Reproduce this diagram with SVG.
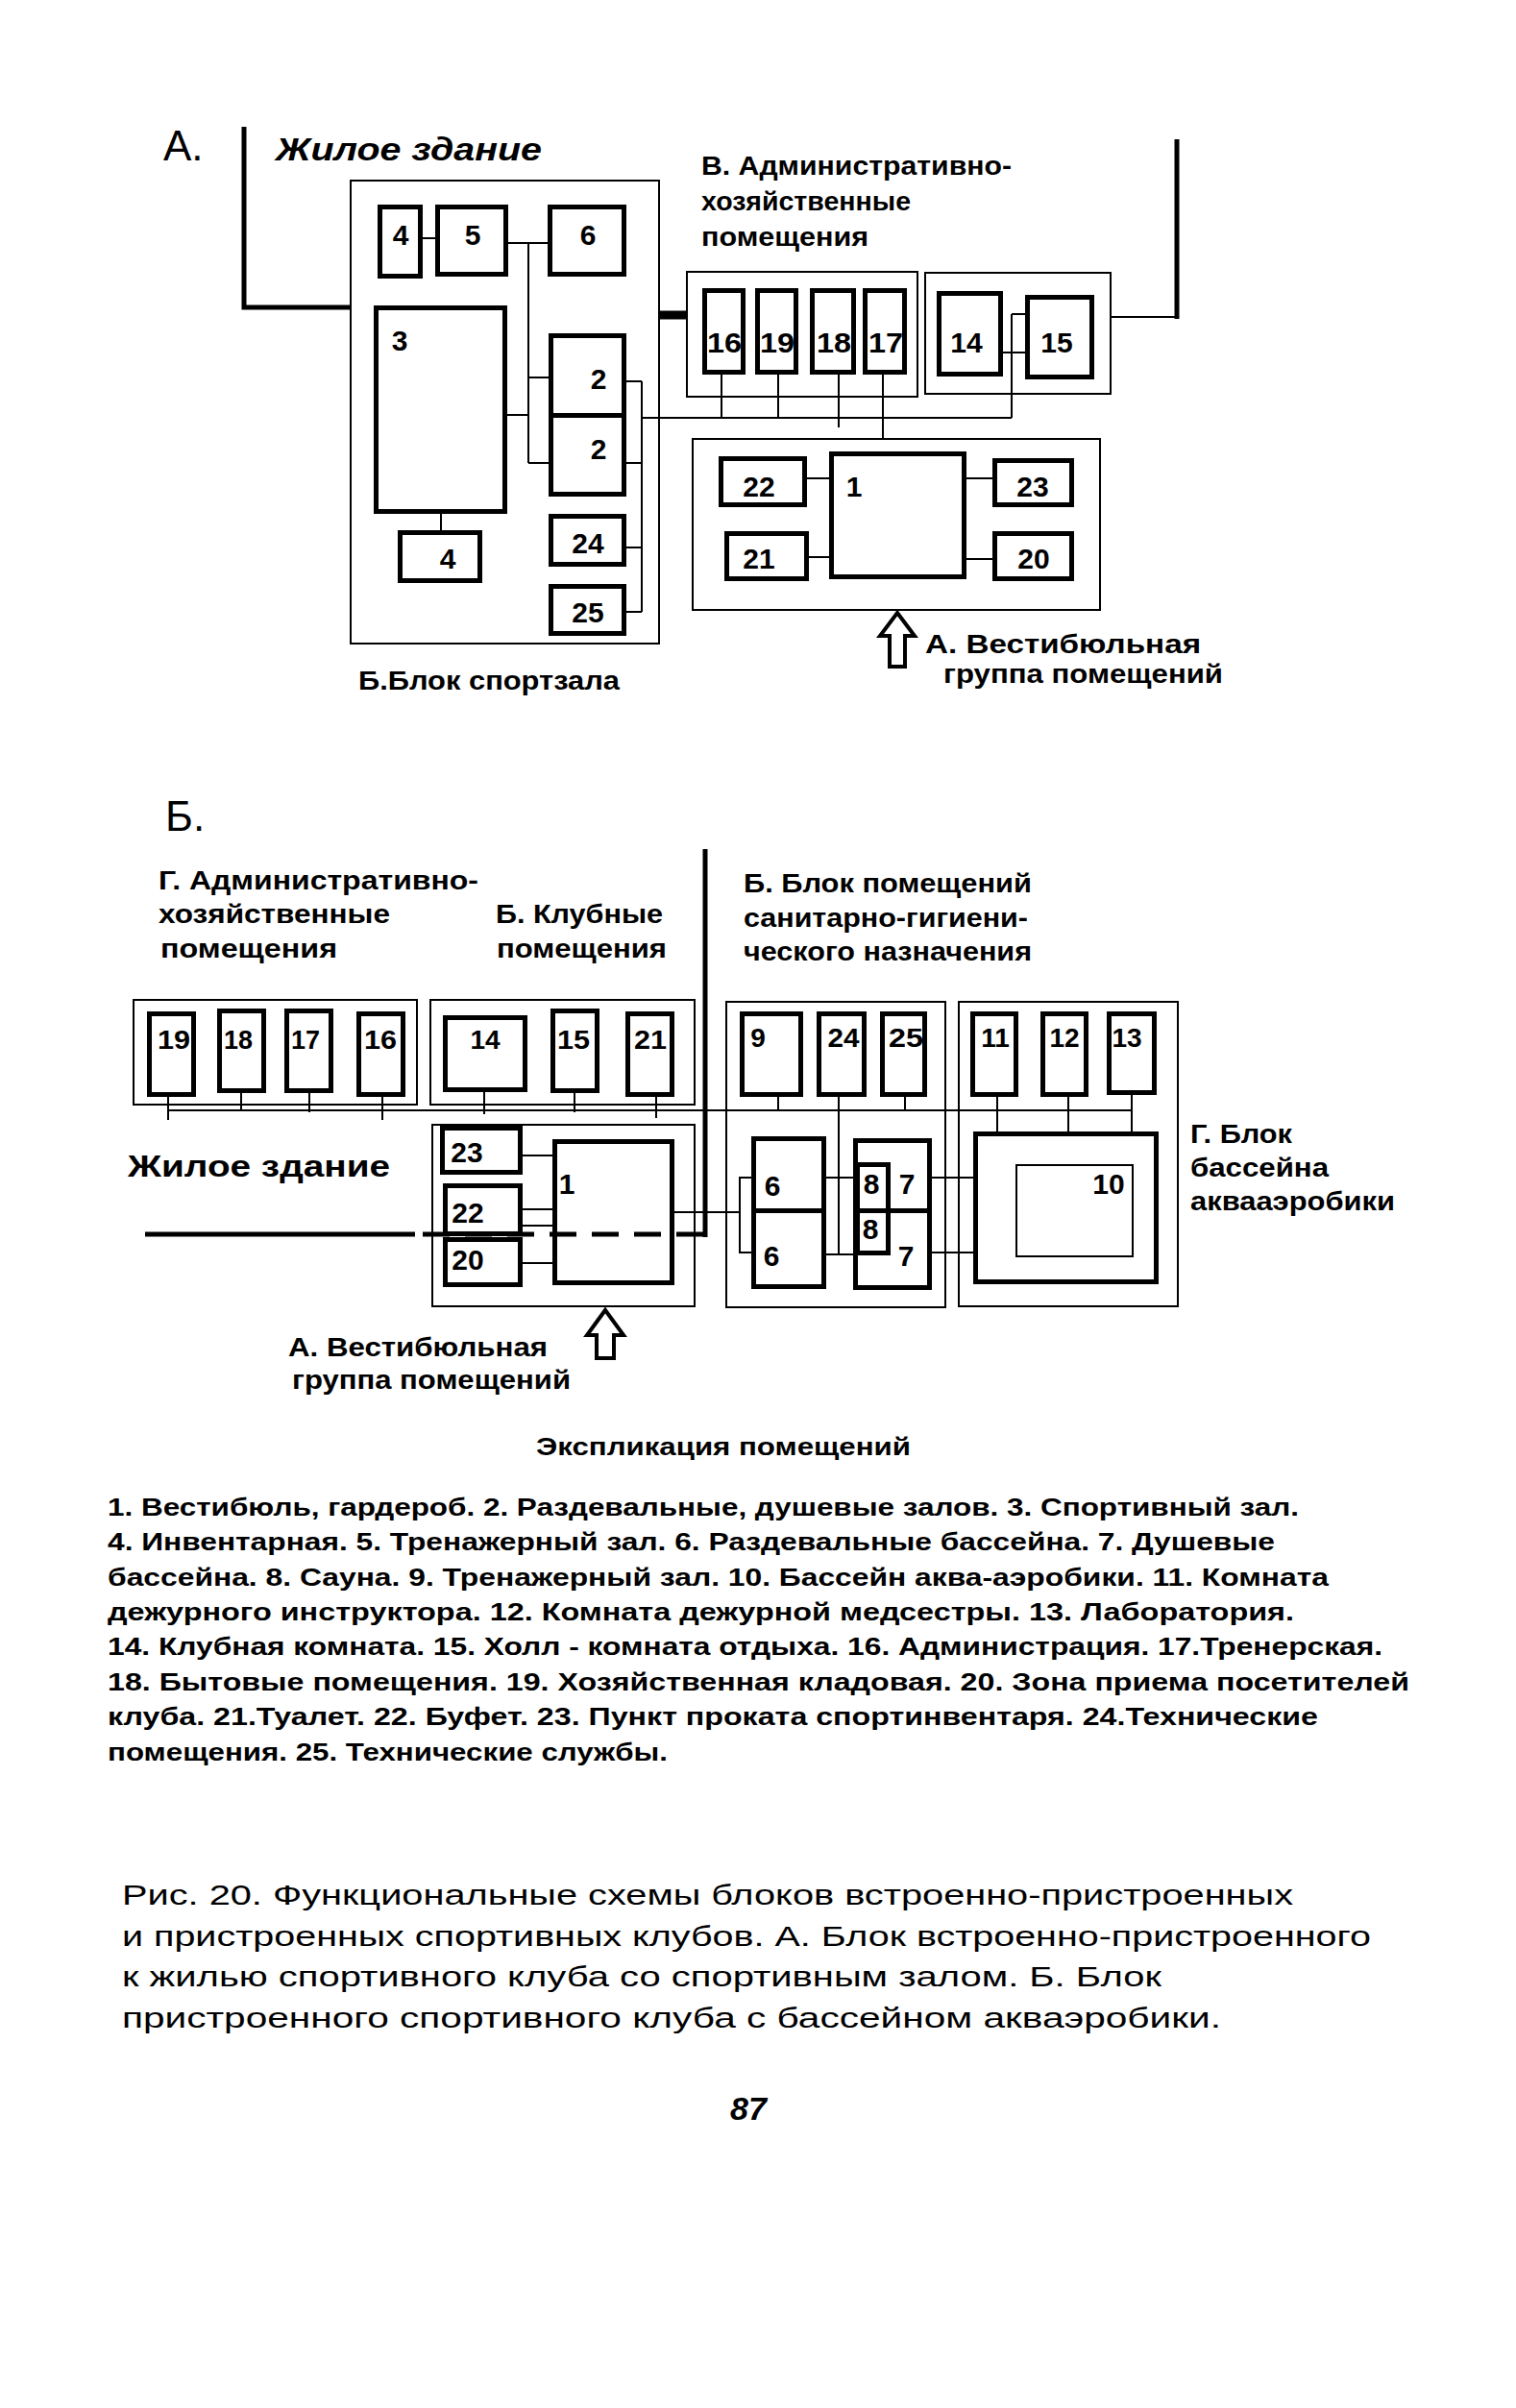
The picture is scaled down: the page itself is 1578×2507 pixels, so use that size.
<svg xmlns="http://www.w3.org/2000/svg" width="1578" height="2507" viewBox="0 0 1578 2507">
<style>
.bg{fill:#fff}
.thin{fill:none;stroke:#000;stroke-width:2}
.thick{fill:#fff;stroke:#000;stroke-width:5}
.inner{fill:none;stroke:#000;stroke-width:2}
.w{fill:none;stroke:#000;stroke-width:2}
.h{fill:none;stroke:#000;stroke-width:5}
.arrow{fill:#fff;stroke:#000;stroke-width:4;stroke-linejoin:miter}
text{font-family:"Liberation Sans",Arial,sans-serif;fill:#000}
.num{font-weight:bold;font-size:30px;text-anchor:middle}
.num2{font-weight:bold;font-size:28px;text-anchor:middle}
.hd{font-weight:bold;font-size:27px}
.big{font-size:44px}
.ex{font-weight:bold;font-size:25px}
.cap{font-size:30px}
</style>
<rect class="bg" x="0" y="0" width="1578" height="2507"/>

<!-- ===== Part A ===== -->
<text class="big" x="170" y="167">А.</text>
<text x="287" y="167" font-weight="bold" font-style="italic" font-size="33" textLength="277" lengthAdjust="spacingAndGlyphs">Жилое здание</text>
<text class="hd" x="730" y="182" textLength="323" lengthAdjust="spacingAndGlyphs">В. Административно-</text>
<text class="hd" x="730" y="219" textLength="218" lengthAdjust="spacingAndGlyphs">хозяйственные</text>
<text class="hd" x="730" y="256" textLength="174" lengthAdjust="spacingAndGlyphs">помещения</text>
<text class="hd" x="373" y="718" textLength="272" lengthAdjust="spacingAndGlyphs">Б.Блок спортзала</text>
<text class="hd" x="963" y="680" textLength="287" lengthAdjust="spacingAndGlyphs">А. Вестибюльная</text>
<text class="hd" x="982" y="711" textLength="291" lengthAdjust="spacingAndGlyphs">группа помещений</text>

<g id="connectors-A">
  <polyline class="h" points="254,132 254,320 366,320"/>
  <line x1="686" y1="328" x2="714" y2="328" stroke="#000" stroke-width="9"/>
  <line class="w" x1="437" y1="248" x2="456" y2="248"/>
  <line class="w" x1="527" y1="253" x2="573" y2="253"/>
  <line class="w" x1="550" y1="253" x2="550" y2="482"/>
  <line class="w" x1="526" y1="432" x2="550" y2="432"/>
  <line class="w" x1="550" y1="393" x2="573" y2="393"/>
  <line class="w" x1="550" y1="482" x2="573" y2="482"/>
  <line class="w" x1="650" y1="397" x2="668" y2="397"/>
  <line class="w" x1="650" y1="482" x2="668" y2="482"/>
  <line class="w" x1="668" y1="397" x2="668" y2="637"/>
  <line class="w" x1="650" y1="570" x2="668" y2="570"/>
  <line class="w" x1="650" y1="637" x2="668" y2="637"/>
  <line class="w" x1="459" y1="533" x2="459" y2="555"/>
  <line class="w" x1="668" y1="435" x2="1053" y2="435"/>
  <line class="w" x1="751" y1="388" x2="751" y2="435"/>
  <line class="w" x1="810" y1="388" x2="810" y2="435"/>
  <line class="w" x1="873" y1="388" x2="873" y2="445"/>
  <line class="w" x1="919" y1="388" x2="919" y2="458"/>
  <line class="w" x1="1053" y1="327" x2="1053" y2="435"/>
  <line class="w" x1="1053" y1="327" x2="1068" y2="327"/>
  <line class="w" x1="1042" y1="367" x2="1068" y2="367"/>
  <line class="w" x1="1156" y1="330" x2="1227" y2="330"/>
  <line class="h" x1="1225" y1="145" x2="1225" y2="332"/>
  <line class="w" x1="838" y1="498" x2="866" y2="498"/>
  <line class="w" x1="840" y1="580" x2="866" y2="580"/>
  <line class="w" x1="1004" y1="498" x2="1036" y2="498"/>
  <line class="w" x1="1004" y1="582" x2="1036" y2="582"/>
</g>

<g id="A-block-B">
  <rect class="thin" x="365" y="188" width="321" height="482"/>
</g>
<g id="A-room-4a"><rect class="thick" x="395.5" y="215.5" width="42" height="72"/><text class="num" x="417" y="255">4</text></g>
<g id="A-room-5"><rect class="thick" x="455.5" y="215.5" width="71" height="70"/><text class="num" x="492" y="255">5</text></g>
<g id="A-room-6"><rect class="thick" x="572.5" y="215.5" width="77" height="70"/><text class="num" x="612" y="255">6</text></g>
<g id="A-room-3"><rect class="thick" x="391.5" y="320.5" width="134" height="212"/><text class="num" x="416" y="365">3</text></g>
<g id="A-room-2a"><rect class="thick" x="573.5" y="349.5" width="76" height="83"/><text class="num" x="623" y="405">2</text></g>
<g id="A-room-2b"><rect class="thick" x="573.5" y="432.5" width="76" height="82"/><text class="num" x="623" y="478">2</text></g>
<g id="A-room-4b"><rect class="thick" x="416.5" y="554.5" width="83" height="50"/><text class="num" x="466" y="592">4</text></g>
<g id="A-room-24"><rect class="thick" x="573.5" y="537.5" width="76" height="50"/><text class="num" x="612" y="576">24</text></g>
<g id="A-room-25"><rect class="thick" x="573.5" y="610.5" width="76" height="49"/><text class="num" x="612" y="648">25</text></g>

<g id="A-block-V">
  <rect class="thin" x="715" y="283" width="240" height="130"/>
</g>
<g id="A-room-16"><rect class="thick" x="733.5" y="302.5" width="40" height="85"/><text class="num" x="754" y="367" font-size="32" textLength="36" lengthAdjust="spacingAndGlyphs">16</text></g>
<g id="A-room-19"><rect class="thick" x="788.5" y="302.5" width="40" height="85"/><text class="num" x="809" y="367" font-size="32" textLength="36" lengthAdjust="spacingAndGlyphs">19</text></g>
<g id="A-room-18"><rect class="thick" x="845.5" y="302.5" width="43" height="85"/><text class="num" x="868" y="367" font-size="32" textLength="36" lengthAdjust="spacingAndGlyphs">18</text></g>
<g id="A-room-17"><rect class="thick" x="900.5" y="302.5" width="41" height="85"/><text class="num" x="922" y="367" font-size="32" textLength="36" lengthAdjust="spacingAndGlyphs">17</text></g>

<g id="A-block-club">
  <rect class="thin" x="963" y="284" width="193" height="126"/>
</g>
<g id="A-room-14"><rect class="thick" x="977.5" y="305.5" width="64" height="84"/><text class="num" x="1006" y="367">14</text></g>
<g id="A-room-15"><rect class="thick" x="1069.5" y="309.5" width="67" height="83"/><text class="num" x="1100" y="367">15</text></g>

<g id="A-block-vestibule">
  <rect class="thin" x="721" y="457" width="424" height="178"/>
</g>
<g id="A-room-22"><rect class="thick" x="750.5" y="477.5" width="87" height="48"/><text class="num" x="790" y="517">22</text></g>
<g id="A-room-21"><rect class="thick" x="756.5" y="555.5" width="83" height="47"/><text class="num" x="790" y="592">21</text></g>
<g id="A-room-1"><rect class="thick" x="865.5" y="472.5" width="138" height="128"/><text class="num" x="889" y="517">1</text></g>
<g id="A-room-23"><rect class="thick" x="1035.5" y="479.5" width="80" height="46"/><text class="num" x="1075" y="517">23</text></g>
<g id="A-room-20"><rect class="thick" x="1035.5" y="555.5" width="80" height="47"/><text class="num" x="1076" y="592">20</text></g>
<g id="A-entry-arrow"><path class="arrow" d="M934,638 L952,662 L942,662 L942,694 L926,694 L926,662 L916,662 Z"/></g>

<!-- ===== Part B ===== -->
<text class="big" x="172" y="865">Б.</text>
<text class="hd" x="165" y="926" textLength="333" lengthAdjust="spacingAndGlyphs">Г. Административно-</text>
<text class="hd" x="165" y="961" textLength="241" lengthAdjust="spacingAndGlyphs">хозяйственные</text>
<text class="hd" x="167" y="997" textLength="184" lengthAdjust="spacingAndGlyphs">помещения</text>
<text class="hd" x="516" y="961" textLength="174" lengthAdjust="spacingAndGlyphs">Б. Клубные</text>
<text class="hd" x="517" y="997" textLength="177" lengthAdjust="spacingAndGlyphs">помещения</text>
<text class="hd" x="774" y="929" textLength="300" lengthAdjust="spacingAndGlyphs">Б. Блок помещений</text>
<text class="hd" x="774" y="965" textLength="296" lengthAdjust="spacingAndGlyphs">санитарно-гигиени-</text>
<text class="hd" x="774" y="1000" textLength="300" lengthAdjust="spacingAndGlyphs">ческого назначения</text>
<text x="133" y="1225" font-weight="bold" font-size="32" textLength="273" lengthAdjust="spacingAndGlyphs">Жилое здание</text>
<text class="hd" x="300" y="1412" textLength="270" lengthAdjust="spacingAndGlyphs">А. Вестибюльная</text>
<text class="hd" x="304" y="1446" textLength="290" lengthAdjust="spacingAndGlyphs">группа помещений</text>
<text class="hd" x="1239" y="1190" textLength="106" lengthAdjust="spacingAndGlyphs">Г. Блок</text>
<text class="hd" x="1239" y="1225" textLength="144" lengthAdjust="spacingAndGlyphs">бассейна</text>
<text class="hd" x="1239" y="1260" textLength="213" lengthAdjust="spacingAndGlyphs">аквааэробики</text>

<g id="connectors-B">
  <line class="h" x1="734" y1="884" x2="734" y2="1288"/>
  <line class="h" x1="151" y1="1285" x2="432" y2="1285"/>
  <line class="w" x1="175" y1="1156" x2="1178" y2="1156"/>
  <line class="w" x1="175" y1="1140" x2="175" y2="1166"/>
  <line class="w" x1="251" y1="1136" x2="251" y2="1156"/>
  <line class="w" x1="322" y1="1136" x2="322" y2="1158"/>
  <line class="w" x1="398" y1="1140" x2="398" y2="1166"/>
  <line class="w" x1="504" y1="1135" x2="504" y2="1160"/>
  <line class="w" x1="598" y1="1136" x2="598" y2="1158"/>
  <line class="w" x1="683" y1="1140" x2="683" y2="1164"/>
  <line class="w" x1="810" y1="1140" x2="810" y2="1156"/>
  <line class="w" x1="873" y1="1140" x2="873" y2="1306"/>
  <line class="w" x1="942" y1="1140" x2="942" y2="1156"/>
  <line class="w" x1="1038" y1="1140" x2="1038" y2="1178"/>
  <line class="w" x1="1112" y1="1140" x2="1112" y2="1178"/>
  <line class="w" x1="1178" y1="1138" x2="1178" y2="1178"/>
  <line class="w" x1="542" y1="1203" x2="577" y2="1203"/>
  <line class="w" x1="542" y1="1259" x2="577" y2="1259"/>
  <line class="w" x1="542" y1="1276" x2="577" y2="1276"/>
  <line class="w" x1="542" y1="1315" x2="577" y2="1315"/>
  <line class="w" x1="700" y1="1262" x2="770" y2="1262"/>
  <polyline class="w" points="784,1226 770,1226 770,1304 784,1304"/>
  <line class="w" x1="858" y1="1226" x2="891" y2="1226"/>
  <line class="w" x1="858" y1="1306" x2="891" y2="1306"/>
  <line class="w" x1="968" y1="1226" x2="1015" y2="1226"/>
  <line class="w" x1="968" y1="1304" x2="1015" y2="1304"/>
</g>

<g id="B-block-admin"><rect class="thin" x="139" y="1041" width="295" height="109"/></g>
<g id="B-room-19"><rect class="thick" x="155.5" y="1055.5" width="46" height="84"/><text class="num2" x="181" y="1092" textLength="34" lengthAdjust="spacingAndGlyphs">19</text></g>
<g id="B-room-18"><rect class="thick" x="228.5" y="1052.5" width="46" height="83"/><text class="num2" x="248" y="1092" textLength="30" lengthAdjust="spacingAndGlyphs">18</text></g>
<g id="B-room-17"><rect class="thick" x="298.5" y="1052.5" width="46" height="83"/><text class="num2" x="318" y="1092" textLength="30" lengthAdjust="spacingAndGlyphs">17</text></g>
<g id="B-room-16"><rect class="thick" x="373.5" y="1055.5" width="46" height="84"/><text class="num2" x="396" y="1092" textLength="34" lengthAdjust="spacingAndGlyphs">16</text></g>

<g id="B-block-club"><rect class="thin" x="448" y="1041" width="275" height="109"/></g>
<g id="B-room-14"><rect class="thick" x="463.5" y="1059.5" width="83" height="75"/><text class="num2" x="505" y="1092">14</text></g>
<g id="B-room-15"><rect class="thick" x="575.5" y="1052.5" width="46" height="83"/><text class="num2" x="597" y="1092" textLength="34" lengthAdjust="spacingAndGlyphs">15</text></g>
<g id="B-room-21"><rect class="thick" x="653.5" y="1055.5" width="46" height="84"/><text class="num2" x="677" y="1092" textLength="34" lengthAdjust="spacingAndGlyphs">21</text></g>

<g id="B-block-sanitary"><rect class="thin" x="756" y="1043" width="228" height="318"/></g>
<g id="B-room-9"><rect class="thick" x="772.5" y="1055.5" width="61" height="84"/><text class="num2" x="789" y="1090">9</text></g>
<g id="B-room-24"><rect class="thick" x="852.5" y="1055.5" width="47" height="84"/><text class="num2" x="878" y="1090" textLength="33" lengthAdjust="spacingAndGlyphs">24</text></g>
<g id="B-room-25"><rect class="thick" x="918.5" y="1055.5" width="44" height="84"/><text class="num2" x="943" y="1090" textLength="36" lengthAdjust="spacingAndGlyphs">25</text></g>
<g id="B-room-6a"><rect class="thick" x="784.5" y="1185.5" width="73" height="75"/><text class="num" x="804" y="1245" font-size="33">6</text></g>
<g id="B-room-6b"><rect class="thick" x="784.5" y="1260.5" width="73" height="79"/><text class="num" x="803" y="1318" font-size="33">6</text></g>
<g id="B-room-7"><rect class="thick" x="890.5" y="1187.5" width="77" height="153"/><line class="h" x1="888" y1="1260.5" x2="970" y2="1260.5"/><text class="num" x="944" y="1243" font-size="33">7</text><text class="num" x="943" y="1318" font-size="33">7</text></g>
<g id="B-room-8a"><rect class="thick" x="892.5" y="1212.5" width="32" height="48"/><text class="num" x="907" y="1243" font-size="33">8</text></g>
<g id="B-room-8b"><rect class="thick" x="892.5" y="1260.5" width="32" height="44"/><text class="num" x="906" y="1290" font-size="33">8</text></g>

<g id="B-block-pool"><rect class="thin" x="998" y="1043" width="228" height="317"/></g>
<g id="B-room-11"><rect class="thick" x="1012.5" y="1055.5" width="45" height="84"/><text class="num2" x="1036" y="1090">11</text></g>
<g id="B-room-12"><rect class="thick" x="1085.5" y="1055.5" width="45" height="84"/><text class="num2" x="1108" y="1090">12</text></g>
<g id="B-room-13"><rect class="thick" x="1154.5" y="1055.5" width="47" height="82"/><text class="num2" x="1173" y="1090">13</text></g>
<g id="B-room-10"><rect class="thick" x="1015.5" y="1180.5" width="188" height="154"/><rect class="inner" x="1058" y="1213" width="121" height="95"/><text class="num" x="1154" y="1243">10</text></g>

<g id="B-block-vestibule"><rect class="thin" x="450" y="1171" width="273" height="189"/></g>
<g id="B-room-23"><rect class="thick" x="460.5" y="1174.5" width="81" height="46"/><text class="num" x="486" y="1210">23</text></g>
<g id="B-room-22"><rect class="thick" x="463.5" y="1234.5" width="78" height="50"/><text class="num" x="487" y="1273">22</text></g>
<g id="B-room-20"><rect class="thick" x="463.5" y="1290.5" width="78" height="47"/><text class="num" x="487" y="1322">20</text></g>
<g id="B-room-1"><rect class="thick" x="577.5" y="1188.5" width="122" height="147"/><text class="num" x="590" y="1243">1</text></g>
<g id="B-entry-arrow"><path class="arrow" d="M630,1364 L649,1390 L639,1390 L639,1414 L621,1414 L621,1390 L611,1390 Z"/></g>

<g id="B-axis">
  <line class="h" x1="440" y1="1285" x2="734" y2="1285" stroke-dasharray="28 16"/>
</g>

<!-- ===== Explication ===== -->
<g id="explication">
<text class="ex" x="558" y="1515" textLength="390" lengthAdjust="spacingAndGlyphs">Экспликация помещений</text>
<text class="ex" x="112" y="1578" textLength="1240" lengthAdjust="spacingAndGlyphs">1. Вестибюль, гардероб. 2. Раздевальные, душевые залов. 3. Спортивный  зал.</text>
<text class="ex" x="112" y="1614" textLength="1215" lengthAdjust="spacingAndGlyphs">4. Инвентарная. 5. Тренажерный зал.  6. Раздевальные бассейна. 7. Душевые</text>
<text class="ex" x="112" y="1651" textLength="1271" lengthAdjust="spacingAndGlyphs">бассейна. 8. Сауна.  9. Тренажерный зал. 10. Бассейн аква-аэробики. 11. Комната</text>
<text class="ex" x="112" y="1687" textLength="1235" lengthAdjust="spacingAndGlyphs">дежурного инструктора. 12. Комната дежурной медсестры. 13. Лаборатория.</text>
<text class="ex" x="112" y="1723" textLength="1327" lengthAdjust="spacingAndGlyphs">14. Клубная комната. 15. Холл - комната отдыха. 16. Администрация. 17.Тренерская.</text>
<text class="ex" x="112" y="1760" textLength="1355" lengthAdjust="spacingAndGlyphs">18. Бытовые  помещения. 19. Хозяйственная  кладовая.  20. Зона приема посетителей</text>
<text class="ex" x="112" y="1796" textLength="1260" lengthAdjust="spacingAndGlyphs">клуба. 21.Туалет.  22. Буфет.  23. Пункт проката спортинвентаря.  24.Технические</text>
<text class="ex" x="112" y="1833" textLength="583" lengthAdjust="spacingAndGlyphs">помещения. 25. Технические службы.</text>
</g>

<g id="caption">
<text class="cap" x="127" y="1983" textLength="1219" lengthAdjust="spacingAndGlyphs">Рис. 20.  Функциональные схемы  блоков встроенно-пристроенных</text>
<text class="cap" x="127" y="2026" textLength="1300" lengthAdjust="spacingAndGlyphs">и пристроенных спортивных клубов.  А. Блок встроенно-пристроенного</text>
<text class="cap" x="127" y="2068" textLength="1082" lengthAdjust="spacingAndGlyphs">к  жилью спортивного  клуба со спортивным залом. Б. Блок</text>
<text class="cap" x="127" y="2111" textLength="1144" lengthAdjust="spacingAndGlyphs">пристроенного  спортивного  клуба с бассейном акваэробики.</text>
<text x="760" y="2207" font-family="Liberation Serif, serif" font-weight="bold" font-style="italic" font-size="34">87</text>
</g>
</svg>
